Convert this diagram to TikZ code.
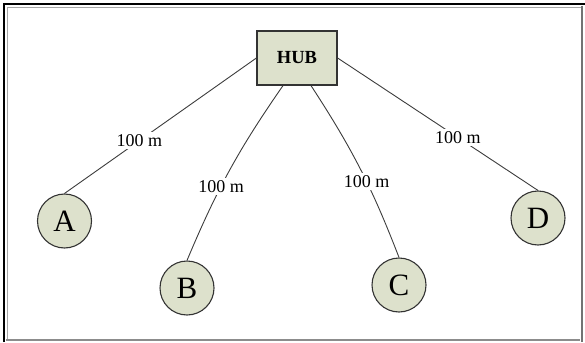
\documentclass[tikz,border=0pt]{standalone}
\usepackage{fontspec}
\setmainfont{Liberation Serif}
\definecolor{nodefill}{RGB}{221,225,204}
\definecolor{wire}{RGB}{60,60,60}

\begin{document}
\begin{tikzpicture}[x=1pt,y=-1pt,
  hubbox/.style={draw=black!80,line width=1.2pt,fill=nodefill,
    minimum width=80pt,minimum height=54pt,
    font=\fontsize{18.5}{21}\selectfont\bfseries},
  station/.style={circle,draw=black!80,line width=1.1pt,fill=nodefill,
    minimum size=54pt,inner sep=0pt,font=\fontsize{31}{34}\selectfont},
  dist/.style={fill=white,inner sep=2.5pt,font=\fontsize{18}{20}\selectfont},
  wire/.style={draw=wire,line width=0.9pt}]
  \useasboundingbox (0,0) rectangle (585,342);
  % frame
  \draw[black,line width=2.5pt] (4,342) -- (4,4) -- (585,4);
  \draw[black!35,line width=1pt] (7.5,340) -- (7.5,7.5) -- (581,7.5);
  \draw[black!55,line width=2pt] (581.5,6) -- (581.5,342);
  \draw[black!45,line width=1.5pt] (6,340) -- (580,340);
  % nodes
  \node[hubbox] (hub) at (297,58) {HUB};
  \node[station] (a) at (64.5,221) {A};
  \node[station] (b) at (187,288) {B};
  \node[station] (c) at (399,285) {C};
  \node[station] (d) at (538,218) {D};
  % links
  \draw[wire] (hub.west) -- node[pos=0.61,dist]{100 m} (a.north);
  \draw[wire] ([xshift=-14pt]hub.south) to[bend right=6]
     node[pos=0.6,dist]{100 m} (b.north);
  \draw[wire] ([xshift=14pt]hub.south) to[bend left=6]
     node[pos=0.58,dist]{100 m} (c.north);
  \draw[wire] (hub.east) -- node[pos=0.6,dist]{100 m} (d.north);
\end{tikzpicture}
\end{document}
